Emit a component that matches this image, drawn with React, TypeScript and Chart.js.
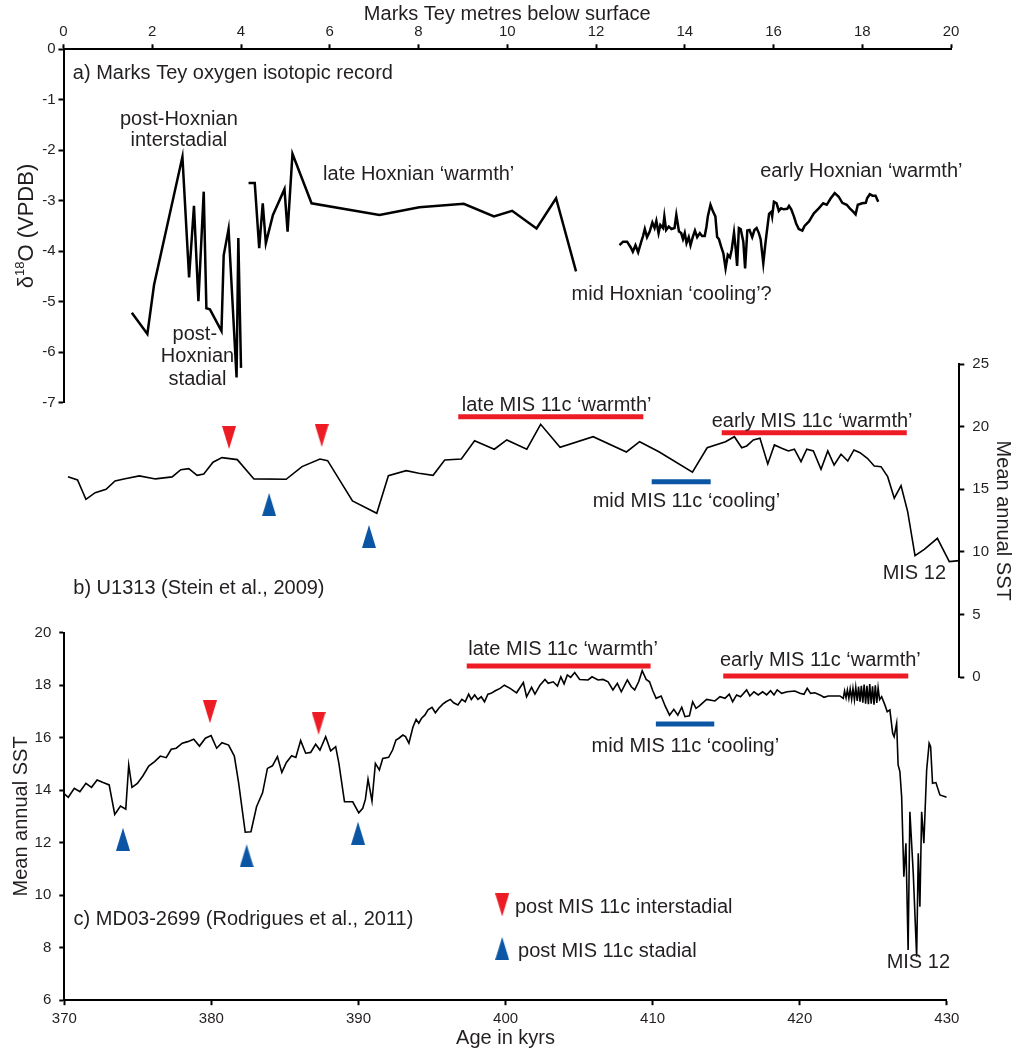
import React, { useEffect, useRef } from 'react';
import { Chart, registerables } from 'chart.js';

Chart.register(...registerables);

const W = 1027;
const H = 1048;
const FONT = '"Liberation Sans", Arial, Helvetica, sans-serif';
const INK = '#231f20';
const RED = '#ed1c24';
const BLUE = '#0b56a4';

// ---------- Panel a: Marks Tey oxygen isotopic record (depth m, d18O) ----------
const aDepth = [
  1.54, 1.89, 2.04, 2.68, 2.83, 2.94, 3.04, 3.16, 3.22, 3.30, 3.56, 3.61, 3.72, 3.90, 3.94, 4.00, null,
  4.17, 4.31, 4.41, 4.49, 4.56, 4.72, 4.98, 5.05, 5.16, 5.59, 7.12, 8.02, 9.02, 9.70, 10.11, 10.66, 11.10, 11.55, null,
  12.53, 12.61, 12.70, 12.78, 12.83, 12.89, 12.95, 13.02, 13.06, 13.10, 13.15, 13.21, 13.27, 13.32, 13.36, 13.41,
  13.45, 13.51, 13.54, 13.58, 13.64, 13.70, 13.77, 13.81, 13.87, 13.92, 13.96, 14.00, 14.04, 14.09, 14.13, 14.18,
  14.23, 14.28, 14.34, 14.39, 14.45, 14.49, 14.52, 14.58, 14.64, 14.69, 14.73, 14.77, 14.82, 14.87, 14.92, 14.97,
  15.02, 15.06, 15.11, 15.15, 15.18, 15.22, 15.26, 15.32, 15.36, 15.41, 15.46, 15.52, 15.57, 15.62, 15.67, 15.71,
  15.77, 15.81, 15.84, 15.90, 15.95, 15.97, 16.01, 16.07, 16.12, 16.17, 16.23, 16.31, 16.35, 16.40, 16.46, 16.51,
  16.57, 16.65, 16.70, 16.80, 16.91, 17.02, 17.12, 17.20, 17.29, 17.38, 17.47, 17.55, 17.65, 17.72, 17.80, 17.85,
  17.90, 18.00, 18.08, 18.11, 18.17, 18.23, 18.30, 18.36,
];
const aD18O = [
  -5.22, -5.64, -4.67, -2.13, -4.52, -3.10, -4.99, -2.82, -5.13, -5.15, -5.58, -4.08, -3.56, -6.50, -3.74, -6.31, null,
  -2.65, -2.65, -3.94, -3.05, -3.84, -3.28, -2.77, -3.61, -2.07, -3.05, -3.28, -3.13, -3.06, -3.31, -3.20, -3.55, -2.95, -4.40, null,
  -3.88, -3.81, -3.81, -3.92, -4.01, -3.88, -4.02, -3.81, -3.70, -3.56, -3.72, -3.61, -3.43, -3.54, -3.40, -3.64,
  -3.48, -3.54, -3.31, -3.58, -3.51, -3.56, -3.54, -3.28, -3.61, -3.64, -3.76, -3.64, -3.84, -3.72, -3.88, -3.72,
  -3.59, -3.72, -3.64, -3.70, -3.70, -3.51, -3.31, -3.08, -3.22, -3.31, -3.72, -3.76, -3.91, -4.04, -4.34, -4.07,
  -4.12, -3.96, -3.63, -3.97, -4.29, -3.54, -3.56, -3.81, -4.34, -3.59, -3.58, -3.72, -3.58, -3.54, -3.64, -3.76,
  -4.24, -3.91, -3.68, -3.26, -3.22, -3.31, -3.02, -3.05, -3.20, -3.15, -3.17, -3.16, -3.10, -3.17, -3.31, -3.45,
  -3.56, -3.59, -3.50, -3.41, -3.25, -3.15, -3.05, -3.08, -2.95, -2.85, -2.92, -3.04, -3.08, -3.15, -3.22, -3.27,
  -3.08, -3.05, -3.04, -2.95, -2.87, -2.90, -2.90, -3.02,
];
const aDepthTicks = [0, 2, 4, 6, 8, 10, 12, 14, 16, 18, 20];
const aD18OTicks = [0, -1, -2, -3, -4, -5, -6, -7];

// ---------- Panel b: U1313 (age kyr, SST) ----------
const bAge = [
  370.25, 370.9, 371.47, 372.1, 372.84, 373.45, 374.13, 375.1, 376.2, 377.33, 377.92, 378.46, 379.03, 379.48,
  380.11, 380.72, 381.76, 382.89, 385.08, 386.16, 387.38, 387.9, 389.59, 391.24, 392.03, 393.24, 394.1, 395.07,
  395.86, 396.99, 397.89, 399.23, 400.08, 401.44, 402.38, 403.7, 405.95, 408.21, 409.11, 410.42, 412.7, 413.7,
  414.95, 415.55, 416.05, 416.39, 416.84, 417.29, 417.82, 418.27, 418.77, 419.22, 419.63, 420.08, 420.47, 420.92,
  421.44, 421.9, 422.33, 422.8, 423.26, 423.68, 424.09, 424.59, 425.06, 425.52, 425.97, 426.42, 426.88, 427.33,
  427.83, 428.46, 429.35, 430.16, 430.84,
];
const bSST = [
  16.01, 15.75, 14.2, 14.73, 15.0, 15.67, 15.85, 16.07, 15.83, 15.99, 16.57, 16.65, 16.12, 16.22,
  17.16, 17.53, 17.37, 15.83, 15.8, 16.81, 17.42, 17.29, 14.07, 13.09, 16.09, 16.49, 16.28, 16.12,
  17.34, 17.42, 18.88, 18.2, 18.94, 18.2, 20.19, 18.36, 19.2, 17.98, 18.8, 18.0, 16.37, 18.32,
  18.8, 19.2, 18.32, 18.46, 18.94, 19.07, 17.02, 18.54, 18.28, 18.06, 18.2, 17.21, 18.2, 18.06,
  16.6, 18.06, 16.94, 17.8, 17.26, 18.14, 17.92, 17.48, 16.86, 16.81, 16.01, 14.29, 15.29, 13.22,
  9.7, 10.21, 11.09, 9.23, 9.31,
];
const bInterAge = [381.2, 387.5];
const bInterSST = [19.14, 19.3];
const bStadialAge = [383.92, 390.71];
const bStadialSST = [13.79, 11.24];
const bLateWarmth = [396.78, 409.36];
const bMidCooling = [409.93, 413.94];
const bEarlyWarmth = [414.69, 427.27];
const bSSTTicks = [0, 5, 10, 15, 20, 25];

// ---------- Panel c: MD03-2699 (age kyr, SST) ----------
const cAge = [
  370.0, 370.27, 370.68, 371.06, 371.47, 371.85, 372.23, 372.64, 373.05, 373.43, 373.82, 374.18, 374.38, 374.6,
  374.97, 375.35, 375.74, 376.14, 376.53, 376.93, 377.27, 377.61, 378.02, 378.39, 378.8, 379.19, 379.59, 379.98,
  380.36, 380.72, 381.17, 381.56, 381.85, 382.3, 382.69, 383.07, 383.48, 383.81, 384.15, 384.49, 384.79, 385.1,
  385.46, 385.74, 386.07, 386.41, 386.75, 387.09, 387.38, 387.77, 388.11, 388.45, 388.67, 389.05, 389.61, 390.02,
  390.29, 390.47, 390.65, 390.92, 391.15, 391.42, 391.65, 392.05, 392.32, 392.55, 392.75, 393.02, 393.2, 393.43,
  393.7, 393.92, 394.1, 394.29, 394.51, 394.73, 395.0, 395.23, 395.46, 395.73, 395.95, 396.25, 396.47, 396.76,
  397.03, 397.26, 397.49, 397.67, 397.9, 398.12, 398.35, 398.57, 398.8, 399.02, 399.3, 399.63, 399.92, 400.31,
  400.75, 401.21, 401.43, 401.77, 402.0, 402.34, 402.68, 402.9, 403.24, 403.53, 403.76, 403.98, 404.2, 404.43,
  404.7, 405.04, 405.61, 405.88, 406.29, 406.63, 406.97, 407.3, 407.6, 407.87, 408.28, 408.55, 408.78, 409.05,
  409.29, 409.56, 409.79, 410.01, 410.24, 410.58, 410.85, 411.15, 411.44, 411.71, 411.98, 412.2, 412.5, 412.72,
  412.95, 413.18, 413.67, 414.24, 414.58, 414.92, 415.21, 415.44, 415.71, 415.98, 416.39, 416.61, 416.89, 417.18,
  417.48, 417.75, 418.02, 418.25, 418.47, 418.77, 419.15, 419.67, 420.01, 420.29, 420.51, 420.74, 421.03, 421.37,
  421.65, 421.94, 422.73, 422.96, 423.05, 423.15, 423.24, 423.34, 423.43, 423.53, 423.62, 423.72, 423.81, 423.91,
  424.0, 424.1, 424.19, 424.29, 424.38, 424.48, 424.57, 424.67, 424.76, 424.86, 424.95, 425.05, 425.14, 425.24,
  425.33, 425.43, 425.57, 425.79, 425.95, 426.13, 426.32, 426.42, 426.59, 426.69, 426.81, 426.93, 427.08, 427.22,
  427.37, 427.49, 427.72, 427.95, 428.06, 428.17, 428.29, 428.44, 428.63, 428.8, 428.9, 429.03, 429.26, 429.53,
  429.99,
];
const cSST = [
  13.86, 13.73, 14.07, 13.94, 14.26, 14.11, 14.39, 14.29, 14.2, 13.08, 13.4, 13.28, 14.96, 14.11,
  14.26, 14.55, 14.92, 15.09, 15.3, 15.24, 15.56, 15.6, 15.79, 15.85, 15.94, 15.68, 15.98, 16.08,
  15.6, 15.81, 15.72, 15.3, 14.29, 12.4, 12.42, 13.37, 13.9, 14.83, 14.93, 15.28, 14.68, 15.06,
  15.31, 15.25, 15.89, 15.41, 15.44, 15.75, 15.53, 16.04, 15.5, 15.66, 15.02, 13.56, 13.56, 13.14,
  13.31, 13.65, 14.42, 13.59, 15.02, 14.77, 15.21, 15.25, 15.53, 15.91, 15.98, 16.1, 16.04, 15.79,
  16.4, 16.7, 16.55, 16.74, 16.86, 17.06, 17.16, 16.95, 17.12, 17.28, 17.37, 17.46, 17.33, 17.25,
  17.46, 17.37, 17.66, 17.46, 17.63, 17.46, 17.56, 17.37, 17.66, 17.69, 17.79, 17.88, 18.0, 17.88,
  17.71, 18.1, 17.56, 17.92, 17.66, 18.0, 18.22, 18.07, 18.13, 17.97, 18.32, 18.05, 18.39, 18.3,
  18.48, 18.22, 18.2, 18.32, 18.2, 18.22, 18.13, 17.82, 18.07, 17.75, 18.2, 17.94, 17.82, 18.13,
  18.55, 18.22, 18.13, 17.79, 17.5, 17.59, 17.21, 16.86, 17.08, 16.86, 17.16, 16.8, 16.83, 17.37,
  17.12, 17.21, 17.46, 17.4, 17.56, 17.5, 17.66, 17.37, 17.63, 17.56, 17.82, 17.59, 17.75, 17.63,
  17.75, 17.63, 17.79, 17.63, 17.82, 17.69, 17.75, 17.78, 17.69, 17.65, 17.88, 17.69, 17.71, 17.63,
  17.54, 17.59, 17.59, 17.5, 17.78, 17.52, 17.82, 17.5, 17.86, 17.47, 17.88, 17.44, 17.92, 17.4,
  17.95, 17.37, 17.98, 17.33, 18.02, 17.3, 17.98, 17.28, 18.04, 17.3, 17.96, 17.26, 18.0, 17.32,
  17.9, 17.45, 17.56, 17.25, 16.99, 17.06, 16.17, 16.04, 16.55, 14.96, 14.71, 13.75, 10.7, 11.98,
  7.91, 13.18, 10.83, 7.66, 11.6, 9.56, 13.18, 11.98, 14.77, 15.79, 15.66, 14.26, 14.29, 13.82,
  13.73,
];
const cInterAge = [379.9, 387.29];
const cInterSST = [16.99, 16.55];
const cStadialAge = [373.99, 382.4, 389.97];
const cStadialSST = [12.13, 11.5, 12.36];
const cLateWarmth = [397.36, 409.86];
const cMidCooling = [410.22, 414.19];
const cEarlyWarmth = [414.8, 427.38];
const cAgeTicks = [370, 380, 390, 400, 410, 420, 430];
const cSSTTicks = [6, 8, 10, 12, 14, 16, 18, 20];
// legend symbol positions (age, SST)
const legendAge = [399.77];
const legendInterSST = [9.63];
const legendStadialSST = [7.97];

// ---------- helpers ----------
type Note = { t: string; x: number; y: number; align?: CanvasTextAlign };

function notesPlugin(notes: Note[]) {
  return {
    id: 'notes',
    afterDatasetsDraw(chart: any) {
      const { ctx, scales } = chart;
      ctx.save();
      ctx.fillStyle = INK;
      ctx.font = `20px ${FONT}`;
      ctx.textBaseline = 'alphabetic';
      for (const n of notes) {
        ctx.textAlign = n.align || 'left';
        ctx.fillText(n.t, scales.x.getPixelForValue(n.x), scales.y.getPixelForValue(n.y));
      }
      ctx.restore();
    },
  };
}

const aTitlePlugin = {
  id: 'aTitle',
  afterDraw(chart: any) {
    const { ctx, chartArea } = chart;
    const cy = (chartArea.top + chartArea.bottom) / 2;
    ctx.save();
    ctx.translate(27, cy);
    ctx.rotate(-Math.PI / 2);
    ctx.fillStyle = INK;
    ctx.textBaseline = 'middle';
    ctx.textAlign = 'left';
    const big = `22px ${FONT}`;
    const small = `13px ${FONT}`;
    ctx.font = big;
    const w1 = ctx.measureText('δ').width;
    const w3 = ctx.measureText('O (VPDB)').width;
    ctx.font = small;
    const w2 = ctx.measureText('18').width;
    let x = -(w1 + w2 + w3) / 2;
    ctx.font = big;
    ctx.fillText('δ', x, 0);
    x += w1;
    ctx.font = small;
    ctx.fillText('18', x, -7);
    x += w2;
    ctx.font = big;
    ctx.fillText('O (VPDB)', x, 0);
    ctx.restore();
  },
};

function triangle(color: string, down: boolean) {
  const c = document.createElement('canvas');
  c.width = 14;
  c.height = 23;
  const g = c.getContext('2d')!;
  g.fillStyle = color;
  g.beginPath();
  if (down) {
    g.moveTo(0, 0);
    g.lineTo(14, 0);
    g.lineTo(7, 23);
  } else {
    g.moveTo(7, 0);
    g.lineTo(14, 23);
    g.lineTo(0, 23);
  }
  g.closePath();
  g.fill();
  return c;
}

const pts = (xs: (number | null)[], ys: (number | null)[]) => xs.map((x, i) => ({ x, y: ys[i] }));
const bar = (range: number[], level: number, color: string) => ({
  data: [
    { x: range[0], y: level },
    { x: range[1], y: level },
  ],
  borderColor: color,
  borderWidth: 5,
  borderCapStyle: 'butt',
  pointRadius: 0,
});
const markers = (xs: number[], ys: number[], img: HTMLCanvasElement) => ({
  data: pts(xs, ys),
  showLine: false,
  pointStyle: img,
  pointRadius: 8,
  borderWidth: 0,
});

const tickFont = { family: FONT, size: 15 };
const titleFont = { family: FONT, size: 20 };

function axis(values: number[], min: number, max: number, pad: number, extra: any) {
  return {
    type: 'linear',
    min,
    max,
    afterBuildTicks: (s: any) => {
      s.ticks = values.map((value) => ({ value }));
    },
    grid: { display: true, drawOnChartArea: false, drawTicks: true, tickLength: 5, tickWidth: 2, tickColor: '#000' },
    border: { display: true, color: '#000', width: 2 },
    ticks: {
      color: INK,
      font: tickFont,
      autoSkip: false,
      maxRotation: 0,
      minRotation: 0,
      padding: pad,
      callback: (v: any) => String(v),
    },
    ...extra,
  };
}

const baseOptions = (padding: any) => ({
  responsive: false,
  animation: false,
  devicePixelRatio: 1,
  events: [],
  layout: { padding },
  plugins: { legend: { display: false }, tooltip: { enabled: false } },
  elements: { line: { tension: 0 } },
});

function configA(): any {
  return {
    type: 'line',
    data: {
      datasets: [
        { data: pts(aDepth, aD18O), borderColor: '#000', borderWidth: 2.5, pointRadius: 0, spanGaps: false },
      ],
    },
    options: {
      ...baseOptions({ left: 0, top: 0, right: W - 951, bottom: H - 402.7 }),
      scales: {
        x: axis(aDepthTicks, 0, 20, 3, {
          position: 'top',
          afterFit: (s: any) => {
            s.height = 49.3;
          },
          title: {
            display: true,
            text: 'Marks Tey metres below surface',
            color: INK,
            font: titleFont,
            padding: { top: 2, bottom: 0 },
          },
        }),
        y: axis(aD18OTicks, -7, 0, 3, {
          position: 'left',
          afterFit: (s: any) => {
            s.width = 63.5;
          },
        }),
      },
    },
    plugins: [
      aTitlePlugin,
      notesPlugin([
        { t: 'a) Marks Tey oxygen isotopic record', x: 0.21, y: -0.59 },
        { t: 'post-Hoxnian', x: 2.6, y: -1.5, align: 'center' },
        { t: 'interstadial', x: 2.6, y: -1.92, align: 'center' },
        { t: 'post-', x: 2.96, y: -5.76, align: 'center' },
        { t: 'Hoxnian', x: 3.02, y: -6.19, align: 'center' },
        { t: 'stadial', x: 3.02, y: -6.65, align: 'center' },
        { t: 'late Hoxnian ‘warmth’', x: 5.85, y: -2.58 },
        { t: 'mid Hoxnian ‘cooling’?', x: 11.45, y: -4.97 },
        { t: 'early Hoxnian ‘warmth’', x: 15.7, y: -2.52 },
      ]),
    ],
  };
}

function configB(down: HTMLCanvasElement, up: HTMLCanvasElement): any {
  return {
    type: 'line',
    data: {
      datasets: [
        { data: pts(bAge, bSST), borderColor: '#000', borderWidth: 1.6, pointRadius: 0 },
        bar(bLateWarmth, 20.8, RED),
        bar(bEarlyWarmth, 19.52, RED),
        bar(bMidCooling, 15.61, BLUE),
        markers(bInterAge, bInterSST, down),
        markers(bStadialAge, bStadialSST, up),
      ],
    },
    options: {
      ...baseOptions({ left: 64.3, top: 364, right: 0, bottom: H - 677.3 }),
      scales: {
        x: { type: 'linear', display: false, min: 370, max: 430.84 },
        y: axis(bSSTTicks, 0, 25, 8, {
          position: 'right',
          afterFit: (s: any) => {
            s.width = W - 959.3;
          },
          title: {
            display: true,
            text: 'Mean annual SST',
            color: INK,
            font: titleFont,
            padding: { top: 12, bottom: 0 },
          },
        }),
      },
    },
    plugins: [
      notesPlugin([
        { t: 'late MIS 11c ‘warmth’', x: 397.02, y: 21.28 },
        { t: 'early MIS 11c ‘warmth’', x: 414.01, y: 20.0 },
        { t: 'mid MIS 11c ‘cooling’', x: 405.92, y: 13.62 },
        { t: 'MIS 12', x: 425.63, y: 7.82 },
        { t: 'b) U1313 (Stein et al., 2009)', x: 370.61, y: 6.65 },
      ]),
    ],
  };
}

function configC(down: HTMLCanvasElement, up: HTMLCanvasElement): any {
  return {
    type: 'line',
    data: {
      datasets: [
        { data: pts(cAge, cSST), borderColor: '#000', borderWidth: 1.6, pointRadius: 0 },
        bar(cLateWarmth, 18.73, RED),
        bar(cEarlyWarmth, 18.35, RED),
        bar(cMidCooling, 16.52, BLUE),
        markers(cInterAge, cInterSST, down),
        markers(cStadialAge, cStadialSST, up),
        markers(legendAge, legendInterSST, down),
        markers(legendAge, legendStadialSST, up),
      ],
    },
    options: {
      ...baseOptions({ left: 0, top: 632.7, right: W - 946.8, bottom: 0 }),
      scales: {
        x: axis(cAgeTicks, 370, 430, 5, {
          position: 'bottom',
          afterFit: (s: any) => {
            s.height = H - 1000.2;
          },
          title: {
            display: true,
            text: 'Age in kyrs',
            color: INK,
            font: { family: FONT, size: 20, lineHeight: 1 },
            padding: { top: 0, bottom: 0 },
          },
        }),
        y: axis(cSSTTicks, 6, 20, 8, {
          position: 'left',
          afterFit: (s: any) => {
            s.width = 64.3;
          },
          title: {
            display: true,
            text: 'Mean annual SST',
            color: INK,
            font: titleFont,
            padding: { top: 9, bottom: 0 },
          },
        }),
      },
    },
    plugins: [
      notesPlugin([
        { t: 'late MIS 11c ‘warmth’', x: 397.46, y: 19.15 },
        { t: 'early MIS 11c ‘warmth’', x: 414.58, y: 18.73 },
        { t: 'mid MIS 11c ‘cooling’', x: 405.85, y: 15.47 },
        { t: 'MIS 12', x: 425.91, y: 7.22 },
        { t: 'c) MD03-2699 (Rodrigues et al., 2011)', x: 370.63, y: 8.85 },
        { t: 'post MIS 11c interstadial', x: 400.64, y: 9.32 },
        { t: 'post MIS 11c stadial', x: 400.85, y: 7.65 },
      ]),
    ],
  };
}

const canvasStyle: React.CSSProperties = {
  position: 'absolute',
  left: 0,
  top: 0,
  width: W,
  height: H,
  display: 'block',
};

export default function App() {
  const aRef = useRef<HTMLCanvasElement>(null);
  const bRef = useRef<HTMLCanvasElement>(null);
  const cRef = useRef<HTMLCanvasElement>(null);

  useEffect(() => {
    const down = triangle(RED, true);
    const up = triangle(BLUE, false);
    const charts = [
      new Chart(cRef.current!, configC(down, up)),
      new Chart(bRef.current!, configB(down, up)),
      new Chart(aRef.current!, configA()),
    ];
    return () => charts.forEach((c) => c.destroy());
  }, []);

  return (
    <div style={{ position: 'absolute', left: 0, top: 0, width: W, height: H, background: '#fff', overflow: 'hidden' }}>
      <canvas ref={cRef} width={W} height={H} style={canvasStyle} />
      <canvas ref={bRef} width={W} height={H} style={canvasStyle} />
      <canvas ref={aRef} width={W} height={H} style={canvasStyle} />
    </div>
  );
}
